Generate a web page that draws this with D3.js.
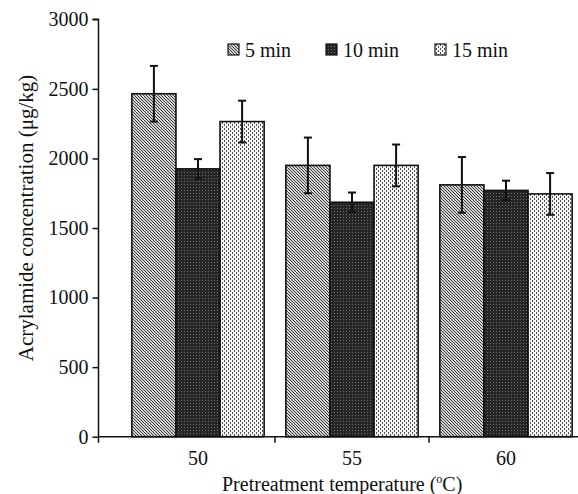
<!DOCTYPE html>
<html><head><meta charset="utf-8">
<script src="https://cdn.jsdelivr.net/npm/d3@7"></script>
<style>body{margin:0;background:#fff}svg{display:block}text{font-family:"Liberation Serif",serif;fill:#111}</style>
</head><body><svg id="c" width="578" height="494"></svg>
<script>
const categories = ["50", "55", "60"];
const seriesNames = ["5 min", "10 min", "15 min"];
const values5 = [2465, 1950, 1810];
const values10 = [1925, 1685, 1770];
const values15 = [2265, 1950, 1745];
const err5 = [200, 200, 200];
const err10 = [70, 70, 70];
const err15 = [150, 150, 150];
const yTicks = [0, 500, 1000, 1500, 2000, 2500, 3000];

const FONT = "Liberation Serif";
const series = [
  {name: seriesNames[0], vals: values5, errs: err5, pat: "p5"},
  {name: seriesNames[1], vals: values10, errs: err10, pat: "p10"},
  {name: seriesNames[2], vals: values15, errs: err15, pat: "p15"}
];

const svg = d3.select("#c");
const defs = svg.append("defs");
const p5 = defs.append("pattern").attr("id","p5").attr("patternUnits","userSpaceOnUse").attr("width",3).attr("height",3);
p5.append("rect").attr("width",3).attr("height",3).attr("fill","#cfcfcf");
p5.append("path").attr("d","M-1,-1 L4,4 M-1,2 L1,4 M2,-1 L4,1").attr("stroke","#444").attr("stroke-width",1);
const p10 = defs.append("pattern").attr("id","p10").attr("patternUnits","userSpaceOnUse").attr("width",3).attr("height",3);
p10.append("rect").attr("width",3).attr("height",3).attr("fill","#262626");
p10.append("rect").attr("x",1).attr("y",1).attr("width",1).attr("height",1).attr("fill","#6a6a6a");
const p15 = defs.append("pattern").attr("id","p15").attr("patternUnits","userSpaceOnUse").attr("width",4).attr("height",4);
p15.append("rect").attr("width",4).attr("height",4).attr("fill","#f6f6f6");
p15.append("rect").attr("x",0).attr("y",0).attr("width",1).attr("height",2).attr("fill","#505050");
p15.append("rect").attr("x",2).attr("y",2).attr("width",1).attr("height",2).attr("fill","#505050");

const axisX0 = 98.5, axisX1 = 578, y0px = 436.7;
const y = d3.scaleLinear().domain([0, 3000]).range([y0px, 19.3]);
const x0 = d3.scaleBand().domain(categories).range([121, 583]).paddingInner(0.141).paddingOuter(0.0705);
const x1 = d3.scaleBand().domain(seriesNames).range([0, x0.bandwidth()]).padding(0);

const g = svg.append("g");
series.forEach(s => {
  categories.forEach((c, i) => {
    const bx = x0(c) + x1(s.name);
    g.append("rect").attr("x", bx).attr("y", y(s.vals[i])).attr("width", x1.bandwidth())
      .attr("height", y(0) - y(s.vals[i])).attr("fill", `url(#${s.pat})`)
      .attr("stroke", "#111").attr("stroke-width", 1.6);
  });
});
series.forEach(s => {
  categories.forEach((c, i) => {
    const cx = x0(c) + x1(s.name) + x1.bandwidth() / 2;
    const top = y(s.vals[i] + s.errs[i]), bot = y(s.vals[i] - s.errs[i]);
    g.append("line").attr("x1", cx).attr("x2", cx).attr("y1", top).attr("y2", bot).attr("stroke", "#111").attr("stroke-width", 2);
    [top, bot].forEach(yy => g.append("line").attr("x1", cx - 4).attr("x2", cx + 4).attr("y1", yy).attr("y2", yy).attr("stroke", "#111").attr("stroke-width", 2));
  });
});

const ya = svg.append("g").attr("transform", `translate(${axisX0},0)`)
  .call(d3.axisLeft(y).tickValues(yTicks).tickSize(6).tickPadding(4).tickFormat(d3.format("d")));
ya.attr("font-family", FONT).attr("font-size", 20);
ya.select(".domain").attr("stroke", "#111").attr("stroke-width", 1.5).attr("d", `M-6,${y(3000)}H0V${y0px}`);
ya.selectAll(".tick line").attr("stroke", "#111").attr("stroke-width", 1.5);
ya.selectAll(".tick text").attr("font-size", 20).attr("font-family", FONT).attr("fill", "#111");

svg.append("line").attr("x1", axisX0).attr("x2", axisX1).attr("y1", y0px).attr("y2", y0px).attr("stroke", "#111").attr("stroke-width", 1.5);
const bTicks = [axisX0].concat(categories.slice(1).map(c => x0(c) - x0.step() * x0.paddingInner() / 2));
bTicks.forEach(t => svg.append("line").attr("x1", t).attr("x2", t).attr("y1", y0px).attr("y2", y0px + 6).attr("stroke", "#111").attr("stroke-width", 1.5));
categories.forEach(c => svg.append("text").attr("x", x0(c) + x0.bandwidth() / 2).attr("y", 465).attr("text-anchor", "middle").attr("font-family", FONT).attr("font-size", 20).text(c));

const xt = svg.append("text").attr("x", 222).attr("y", 491).attr("text-anchor", "start").attr("font-family", FONT).attr("font-size", 20);
xt.append("tspan").text("Pretreatment temperature (");
xt.append("tspan").attr("font-size", 12).attr("dy", -8).text("o");
xt.append("tspan").attr("dy", 8).text("C)");
svg.append("text").attr("transform", "translate(33,218) rotate(-90)").attr("text-anchor", "middle").attr("font-family", FONT).attr("font-size", 21).text("Acrylamide concentration (μg/kg)");

const legX = [228, 326, 435];
series.forEach((s, i) => {
  svg.append("rect").attr("x", legX[i]).attr("y", 44).attr("width", 11).attr("height", 11).attr("fill", `url(#${s.pat})`).attr("stroke", "#111").attr("stroke-width", 1.2);
  svg.append("text").attr("x", legX[i] + 17).attr("y", 57).attr("font-family", FONT).attr("font-size", 20).text(s.name);
});
</script></body></html>
